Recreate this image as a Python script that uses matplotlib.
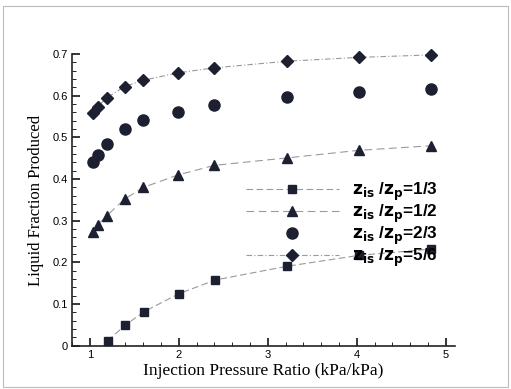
import numpy as np
import matplotlib
matplotlib.use("Agg")
import matplotlib.pyplot as plt
from matplotlib.ticker import MultipleLocator, FuncFormatter
from matplotlib.patches import Rectangle

# injection pressure ratio for each run
x_full = [1.04, 1.09, 1.19, 1.39, 1.60, 1.99, 2.40, 3.22, 4.02, 4.83]
x_sq = [1.20, 1.40, 1.61, 2.00, 2.41, 3.22, 4.02, 4.83]

# liquid fraction produced for each z_is/z_p
y_13 = [0.012, 0.050, 0.082, 0.125, 0.158, 0.191, 0.217, 0.232]
y_12 = [0.272, 0.290, 0.312, 0.352, 0.380, 0.410, 0.433, 0.451, 0.469, 0.480]
y_23 = [0.441, 0.458, 0.484, 0.520, 0.541, 0.561, 0.577, 0.596, 0.609, 0.616]
y_56 = [0.558, 0.574, 0.595, 0.622, 0.637, 0.655, 0.667, 0.683, 0.692, 0.698]

labels = [r"$\mathbf{z_{is}}$ /$\mathbf{z_p}$=1/3",
          r"$\mathbf{z_{is}}$ /$\mathbf{z_p}$=1/2",
          r"$\mathbf{z_{is}}$ /$\mathbf{z_p}$=2/3",
          r"$\mathbf{z_{is}}$ /$\mathbf{z_p}$=5/6"]

mk = "#1c2030"
ln = "#9a9a9a"

fig = plt.figure(figsize=(5.11, 3.89), dpi=100)
ax = fig.add_axes([0.141, 0.111, 0.749, 0.75])

ax.plot(x_sq, y_13, ls=(0, (6, 3)), color=ln, lw=0.8, marker="s", ms=6,
        mfc=mk, mec=mk, label=labels[0], clip_on=False)
ax.plot(x_full, y_12, ls=(0, (7, 4)), color=ln, lw=0.8, marker="^", ms=7,
        mfc=mk, mec=mk, label=labels[1], clip_on=False)
ax.plot(x_full, y_23, ls="none", marker="o", ms=8,
        mfc=mk, mec=mk, label=labels[2], clip_on=False)
ax.plot(x_full, y_56, ls=(0, (5, 2, 1, 2)), color=ln, lw=0.8, marker="D", ms=6,
        mfc=mk, mec=mk, label=labels[3], clip_on=False)

ax.set_xlim(0.8, 5.1)
ax.set_ylim(0, 0.7)
ax.xaxis.set_major_locator(MultipleLocator(1))
ax.xaxis.set_minor_locator(MultipleLocator(0.2))
ax.yaxis.set_major_locator(MultipleLocator(0.1))
ax.yaxis.set_minor_locator(MultipleLocator(0.02))
ax.yaxis.set_major_formatter(FuncFormatter(lambda v, p: "0" if abs(v) < 1e-9 else f"{v:.1f}"))

for s in ["top", "right"]:
    ax.spines[s].set_visible(False)
for s in ["left", "bottom"]:
    ax.spines[s].set_linewidth(1.2)
    ax.spines[s].set_color("#222222")

ax.tick_params(which="major", direction="in", length=6, width=1.1,
               labelsize=8, pad=3)
ax.tick_params(which="minor", direction="in", length=3, width=0.6)
for t in ax.get_xticklabels() + ax.get_yticklabels():
    t.set_fontfamily("Liberation Sans")

ax.set_xlabel("Injection Pressure Ratio (kPa/kPa)", family="Liberation Serif",
              fontsize=12.5, labelpad=2)
ax.set_ylabel("Liquid Fraction Produced", family="Liberation Serif",
              fontsize=12, labelpad=6)

leg = ax.legend(loc="upper left", bbox_to_anchor=(0.415, 0.62), frameon=False,
                handlelength=5.4, handletextpad=0.8, labelspacing=0.0,
                prop={"family": "Liberation Sans", "weight": "bold", "size": 12.3})

# thin frame around the whole figure
fig.patches.append(Rectangle((0.006, 0.006), 0.988, 0.978, transform=fig.transFigure,
                             fill=False, ec="#bbbbbb", lw=0.8))

fig.savefig("out.png", dpi=100)
